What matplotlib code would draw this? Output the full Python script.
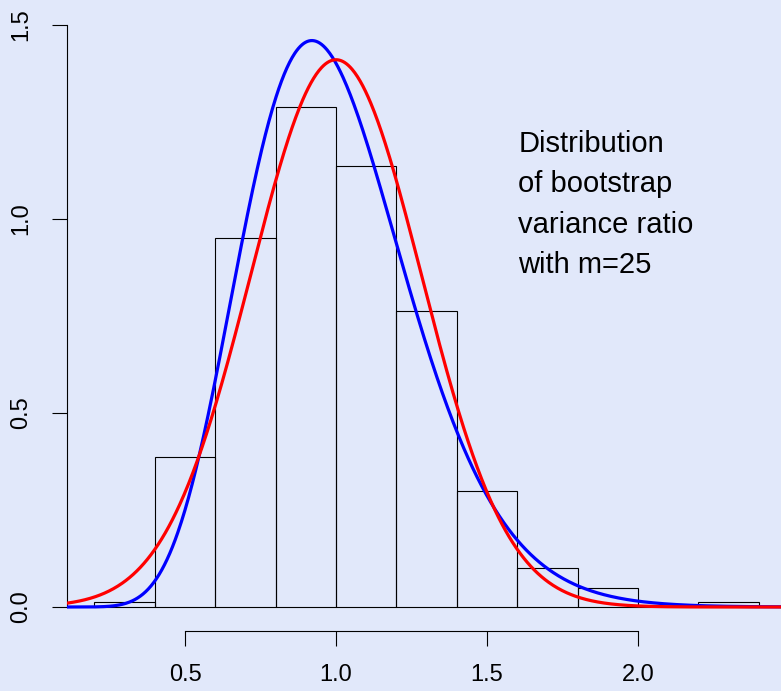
import math
import numpy as np
import matplotlib
matplotlib.use("Agg")
import matplotlib.pyplot as plt

plt.rcParams['font.family'] = ['Liberation Sans', 'DejaVu Sans']

# Histogram (density scale), bin edges and densities
bin_edges = [0.2, 0.4, 0.6, 0.8, 1.0, 1.2, 1.4, 1.6, 1.8, 2.0, 2.2, 2.4]
bin_counts = [1, 31, 76, 103, 91, 61, 24, 8, 4, 0, 1]
n_total = 400

# Density curve parameters
blue_shape, blue_rate = 12.5, 12.5     # chi^2_25 / 25
red_mean, red_sd = 1.0, math.sqrt(2 / 25)

x_ticks = [0.5, 1.0, 1.5, 2.0]
y_ticks = [0.0, 0.5, 1.0, 1.5]
annotation_lines = ["Distribution", "of bootstrap", "variance ratio", "with m=25"]

bg = '#E1E8FA'
fig = plt.figure(figsize=(7.81, 6.91), dpi=100, facecolor=bg)
ax = fig.add_axes([67 / 781, 60 / 691, 1 - 67 / 781, 631 / 691])
ax.set_facecolor(bg)

xlim = (0.109, 2.4735)
ax.set_xlim(*xlim)
ax.set_ylim(-24 / 388, 607 / 388)

widths = np.diff(bin_edges)
dens = np.array(bin_counts) / (n_total * widths)
ax.bar(bin_edges[:-1], dens, width=widths, align='edge', facecolor='none',
       edgecolor='black', linewidth=0.8, zorder=2)

xs = np.linspace(xlim[0], xlim[1], 800)
blue = np.exp(blue_shape * np.log(blue_rate) + (blue_shape - 1) * np.log(xs)
              - blue_rate * xs - math.lgamma(blue_shape))
red = np.exp(-0.5 * ((xs - red_mean) / red_sd) ** 2) / (red_sd * math.sqrt(2 * math.pi))
ax.plot(xs, blue, color='#0000FF', lw=2.3, zorder=3)
ax.plot(xs, red, color='#FF0000', lw=2.3, zorder=4)

for s in ['top', 'right']:
    ax.spines[s].set_visible(False)
ax.spines['left'].set_bounds(0, 1.5)
ax.spines['bottom'].set_bounds(0.5, 2.0)
for s in ['left', 'bottom']:
    ax.spines[s].set_linewidth(0.8)
ax.set_xticks(x_ticks)
ax.set_xticklabels([f"{v:.1f}" for v in x_ticks])
ax.set_yticks(y_ticks)
ax.set_yticklabels([f"{v:.1f}" for v in y_ticks], rotation=90, va='center')
ax.tick_params(axis='both', direction='out', length=11, width=0.8, labelsize=17)
ax.tick_params(axis='x', pad=13)
ax.tick_params(axis='y', pad=14)

for i, line in enumerate(annotation_lines):
    ax.text(1.604, 1.172 - i * 0.1035, line, fontsize=21, ha='left',
            va='baseline')

fig.savefig('out.png', dpi=100, facecolor=bg)
